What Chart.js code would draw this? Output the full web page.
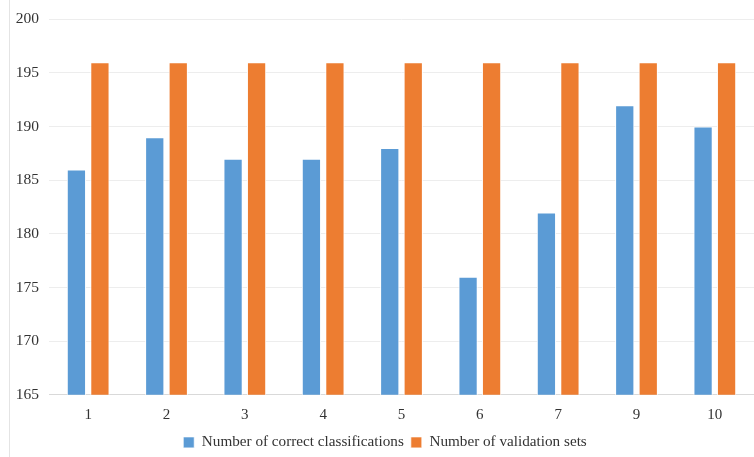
<!DOCTYPE html>
<html>
<head>
<meta charset="utf-8">
<script src="https://cdn.jsdelivr.net/npm/chart.js@4"></script>
<style>
  html, body { margin: 0; padding: 0; background: #ffffff; }
  #wrap { width: 754px; height: 457px; position: relative; }
</style>
</head>
<body>
<div id="wrap"><canvas id="c" width="754" height="457"></canvas></div>
<script>
// Cross-validation folds
const folds = ['1', '2', '3', '4', '5', '6', '7', '9', '10'];
// Correctly classified samples per fold
const correctCounts = [186, 189, 187, 187, 188, 176, 182, 192, 190];
// Size of each validation set
const validationSizes = [196, 196, 196, 196, 196, 196, 196, 196, 196];
// Value axis range and step
const yMin = 165, yMax = 200, yStep = 5;

const serif = '"Liberation Serif", "Times New Roman", serif';

// Thin frame line at the left edge of the figure
const leftRule = {
  id: 'leftRule',
  beforeDraw(chart) {
    const ctx = chart.ctx;
    ctx.save();
    ctx.strokeStyle = '#e4e4e4';
    ctx.lineWidth = 1;
    ctx.beginPath();
    ctx.moveTo(9.5, 0);
    ctx.lineTo(9.5, chart.height);
    ctx.stroke();
    ctx.restore();
  }
};

// Nudge the legend a little to the right and down
const legendOffset = {
  id: 'legendOffset',
  afterLayout(chart) {
    const lg = chart.legend;
    if (!lg) return;
    lg.left += 8; lg.right += 8;
    lg.top += 3; lg.bottom += 3;
  }
};

new Chart(document.getElementById('c'), {
  type: 'bar',
  data: {
    labels: folds,
    datasets: [
      {
        label: 'Number of correct classifications',
        data: correctCounts,
        backgroundColor: '#5B9BD5',
        borderColor: '#ffffff',
        borderWidth: { left: 1, right: 1, top: 1, bottom: 0 },
        borderSkipped: 'bottom'
      },
      {
        label: 'Number of validation sets',
        data: validationSizes,
        backgroundColor: '#ED7D31',
        borderColor: '#ffffff',
        borderWidth: { left: 1, right: 1, top: 1, bottom: 0 },
        borderSkipped: 'bottom'
      }
    ]
  },
  options: {
    responsive: false,
    animation: false,
    devicePixelRatio: 1,
    categoryPercentage: 0.6,
    barPercentage: 0.82,
    layout: { padding: { left: 0, right: 0, top: 8, bottom: 0 } },
    plugins: {
      legend: {
        position: 'bottom',
        labels: {
          font: { family: serif, size: 15.2 },
          color: '#333333',
          boxWidth: 11,
          boxHeight: 11,
          padding: 7
        }
      },
      tooltip: { enabled: false }
    },
    scales: {
      x: {
        grid: { display: false, drawTicks: false },
        border: { display: true, color: '#d9d9d9', width: 1 },
        ticks: {
          font: { family: serif, size: 15 },
          color: '#333333',
          padding: 11
        },
        afterFit(scale) { scale.height = 30; }
      },
      y: {
        min: yMin,
        max: yMax,
        grid: { color: '#ededed', drawTicks: false },
        border: { display: false },
        ticks: {
          stepSize: yStep,
          font: { family: serif, size: 15.5 },
          color: '#333333',
          padding: 10
        },
        afterFit(scale) { scale.width = 49; }
      }
    }
  },
  plugins: [leftRule, legendOffset]
});
</script>
</body>
</html>
